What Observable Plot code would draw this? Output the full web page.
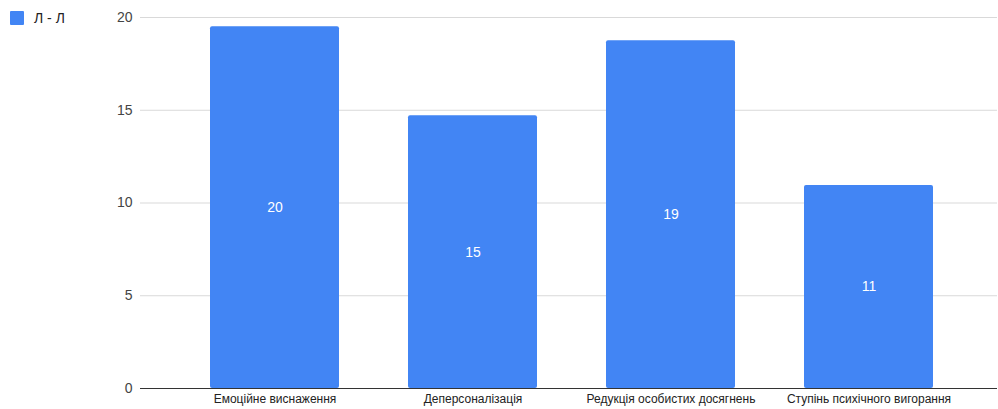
<!DOCTYPE html>
<html>
<head>
<meta charset="utf-8">
<script src="https://cdn.jsdelivr.net/npm/d3@7"></script>
<script src="https://cdn.jsdelivr.net/npm/@observablehq/plot@0.6"></script>
<style>
  html, body { margin: 0; padding: 0; background: #fff; }
  #wrap { position: relative; width: 998px; height: 409px; font-family: Arial, "Liberation Sans", sans-serif; }
  #legend { position: absolute; left: 10px; top: 10px; display: flex; align-items: center; font-size: 14px; color: #222; }
  #legend .sw { width: 14px; height: 14px; background: #4285F4; border-radius: 1px; margin-right: 10px; }
</style>
</head>
<body>
<div id="wrap">
  <div id="chart"></div>
  <div id="legend"><span class="sw"></span><span id="legtext"></span></div>
</div>
<script>
const seriesName = "Л - Л";
const categories = ["Емоційне виснаження", "Деперсоналізація", "Редукція особистих досягнень", "Ступінь психічного вигорання"];
const values = [19.5, 14.7, 18.75, 10.95];
const labels = ["20", "15", "19", "11"];
const yTicks = [0, 5, 10, 15, 20];

const data = categories.map((c, i) => ({ cat: c, value: values[i], label: labels[i], mid: values[i] / 2 }));

document.getElementById("legtext").textContent = seriesName;

const chart = Plot.plot({
  width: 998,
  height: 409,
  marginLeft: 140,
  marginRight: 1,
  marginTop: 17,
  marginBottom: 21,
  style: { fontFamily: "Arial, 'Liberation Sans', sans-serif", background: "#fff" },
  x: { domain: categories, range: [175, 967], paddingInner: 0.35, paddingOuter: 0.175, label: null, tickSize: 0, tickPadding: 6 },
  y: { domain: [0, 20], ticks: yTicks, label: null, tickSize: 0, tickPadding: 8 },
  marks: [
    Plot.ruleY(yTicks.filter(d => d !== 0), { stroke: "#d9d9d9", strokeWidth: 1 }),
    Plot.barY(data, { x: "cat", y: "value", fill: "#4285F4", rx: 2 }),
    Plot.ruleY([0], { stroke: "#333", strokeWidth: 1 }),
    Plot.text(data, { x: "cat", y: "mid", text: "label", fill: "#fff", fontSize: 14 }),
    Plot.axisY({ ticks: yTicks, tickSize: 0, tickPadding: 8, fontSize: 14, color: "#444", label: null }),
    Plot.axisX({ tickSize: 0, tickPadding: 6, fontSize: 12, color: "#222", label: null })
  ]
});
document.getElementById("chart").appendChild(chart);
</script>
</body>
</html>
